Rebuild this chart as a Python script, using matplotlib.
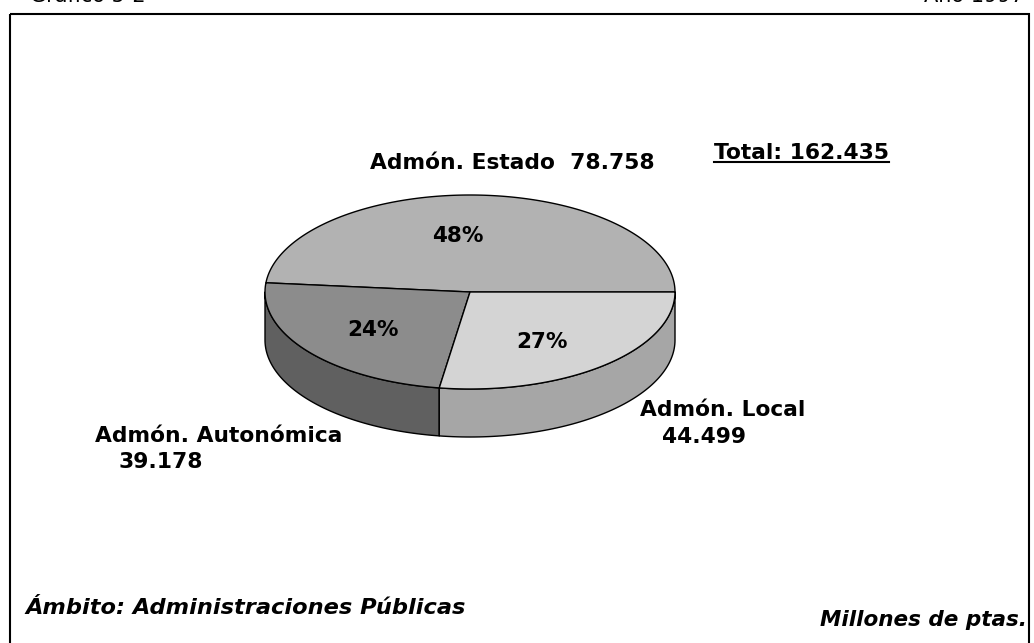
import numpy as np
import matplotlib
matplotlib.use("Agg")
import matplotlib.pyplot as plt
from matplotlib.patches import Polygon, Rectangle

plt.rcParams['font.family'] = ['DejaVu Sans']

# Datos (millones de ptas.)
ambitos = ["Admón. Estado", "Admón. Autonómica", "Admón. Local"]
valores = [78.758, 39.178, 44.499]
etiquetas_valor = ["78.758", "39.178", "44.499"]
total_txt = "162.435"
colores_sup = ["#b2b2b2", "#8c8c8c", "#d4d4d4"]
colores_lat = ["#858585", "#606060", "#a6a6a6"]

W, H = 1034, 643
fig = plt.figure(figsize=(W / 100, H / 100), dpi=100)
ax = fig.add_axes([0, 0, 1, 1])
ax.set_xlim(0, W)
ax.set_ylim(H, 0)
ax.axis('off')

# marco
ax.add_patch(Rectangle((10, 14), 1019, 700, fill=False, lw=1.5, ec='black'))

# encabezado cortado (como en el original)
ax.text(30, -4, "Gráfico 5-2", fontsize=15, ha='left', va='center')
ax.text(1024, -4, "Año 1997", fontsize=15, ha='right', va='center')

# tarta 3D
cx, cy, rx, ry, prof = 470, 292, 205, 97, 48


def punto(t, dy=0):
    t = np.radians(t)
    return cx + rx * np.cos(t), cy - ry * np.sin(t) + dy


vals = np.array(valores)
fr = vals / vals.sum()
limites = np.concatenate([[0], np.cumsum(fr) * 360])

# laterales (solo la parte frontal: 180..360)
for i in range(len(vals)):
    a0, a1 = max(limites[i], 180), min(limites[i + 1], 360)
    if a1 <= a0:
        continue
    ts = np.linspace(a0, a1, 80)
    arriba = [punto(t) for t in ts]
    abajo = [punto(t, prof) for t in ts[::-1]]
    ax.add_patch(Polygon(arriba + abajo, closed=True, fc=colores_lat[i],
                         ec='black', lw=1, joinstyle='round'))

# caras superiores
for i in range(len(vals)):
    ts = np.linspace(limites[i], limites[i + 1], 200)
    pts = [(cx, cy)] + [punto(t) for t in ts]
    ax.add_patch(Polygon(pts, closed=True, fc=colores_sup[i], ec='black', lw=1,
                         joinstyle='round'))

# porcentajes
pos_pct = [(458, 236), (373, 330), (542, 342)]
for (x, y), f in zip(pos_pct, fr):
    ax.text(x, y, f"{round(f * 100):.0f}%", fontsize=15.5, fontweight='bold',
            ha='center', va='center')

kw = dict(fontsize=15.7, fontweight='bold', va='center')
ax.text(512, 163, f"{ambitos[0]}  {etiquetas_valor[0]}", ha='center', **kw)
ax.text(95, 436, ambitos[1], ha='left', **kw)
ax.text(118, 462, etiquetas_valor[1], ha='left', **kw)
ax.text(640, 410, ambitos[2], ha='left', **kw)
ax.text(662, 437, etiquetas_valor[2], ha='left', **kw)

t_total = ax.text(801, 153, f"Total: {total_txt}", ha='center', **kw)

ax.text(25, 608, "Ámbito: Administraciones Públicas", ha='left',
        fontsize=16.2, fontweight='bold', style='italic', va='center')
ax.text(1027, 620, "Millones de ptas.", ha='right',
        fontsize=15.5, fontweight='bold', style='italic', va='center')

# subrayado del total
fig.canvas.draw()
bb = t_total.get_window_extent().transformed(ax.transData.inverted())
ax.plot([bb.x0, bb.x1], [bb.y0 - 1, bb.y0 - 1], color='black', lw=1.5)

fig.savefig("out.png", dpi=100)
